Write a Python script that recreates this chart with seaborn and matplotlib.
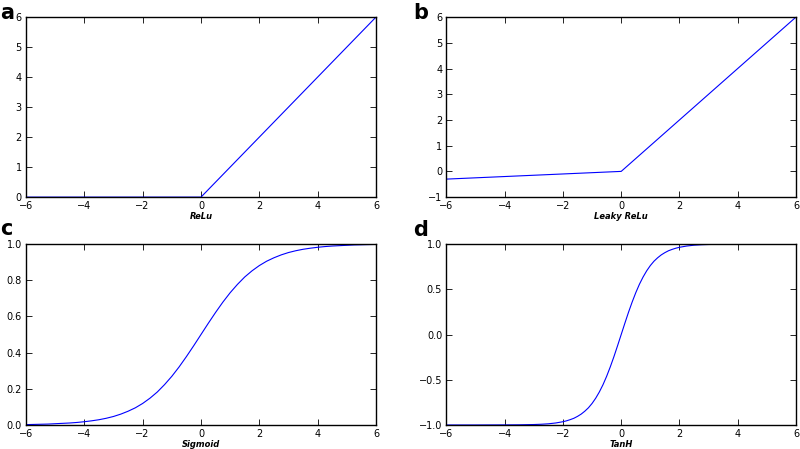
import matplotlib
matplotlib.use("Agg")
import matplotlib.pyplot as plt
import seaborn as sns

# x grid (0.25 step) used for the sigmoid curve
sig_x = [-6.0, -5.75, -5.5, -5.25, -5.0, -4.75, -4.5, -4.25, -4.0, -3.75, -3.5, -3.25,
         -3.0, -2.75, -2.5, -2.25, -2.0, -1.75, -1.5, -1.25, -1.0, -0.75, -0.5, -0.25,
         0.0, 0.25, 0.5, 0.75, 1.0, 1.25, 1.5, 1.75, 2.0, 2.25, 2.5, 2.75,
         3.0, 3.25, 3.5, 3.75, 4.0, 4.25, 4.5, 4.75, 5.0, 5.25, 5.5, 5.75, 6.0]
sigmoid_y = [0.002, 0.003, 0.004, 0.005, 0.007, 0.009, 0.011, 0.014, 0.018, 0.023, 0.029, 0.037,
             0.047, 0.060, 0.076, 0.095, 0.119, 0.148, 0.182, 0.223, 0.269, 0.321, 0.378, 0.438,
             0.500, 0.562, 0.622, 0.679, 0.731, 0.777, 0.818, 0.852, 0.881, 0.905, 0.924, 0.940,
             0.953, 0.963, 0.971, 0.977, 0.982, 0.986, 0.989, 0.991, 0.993, 0.995, 0.996, 0.997, 0.998]

# tanh read on a finer grid through the steep middle part
tanh_x = [-6.0, -5.0, -4.0, -3.5, -3.0, -2.75, -2.5, -2.25, -2.0, -1.875, -1.75, -1.625,
          -1.5, -1.375, -1.25, -1.125, -1.0, -0.875, -0.75, -0.625, -0.5, -0.375, -0.25, -0.125,
          0.0, 0.125, 0.25, 0.375, 0.5, 0.625, 0.75, 0.875, 1.0, 1.125, 1.25, 1.375,
          1.5, 1.625, 1.75, 1.875, 2.0, 2.25, 2.5, 2.75, 3.0, 3.5, 4.0, 5.0, 6.0]
tanh_y = [-1.0, -1.0, -0.999, -0.998, -0.995, -0.992, -0.987, -0.978, -0.964, -0.954, -0.941, -0.926,
          -0.905, -0.880, -0.848, -0.810, -0.762, -0.704, -0.635, -0.555, -0.462, -0.358, -0.245, -0.124,
          0.0, 0.124, 0.245, 0.358, 0.462, 0.555, 0.635, 0.704, 0.762, 0.810, 0.848, 0.880,
          0.905, 0.926, 0.941, 0.954, 0.964, 0.978, 0.987, 0.992, 0.995, 0.998, 0.999, 1.0, 1.0]

relu_x = [-6, 0, 6]
relu_y = [0, 0, 6]

leaky_x = [-6, 0, 6]
leaky_y = [-0.3, 0, 6]

panels = [
    ("a", "ReLu", relu_x, relu_y, (0, 6), [0, 1, 2, 3, 4, 5, 6]),
    ("b", "Leaky ReLu", leaky_x, leaky_y, (-1, 6), [-1, 0, 1, 2, 3, 4, 5, 6]),
    ("c", "Sigmoid", sig_x, sigmoid_y, (0, 1), [0.0, 0.2, 0.4, 0.6, 0.8, 1.0]),
    ("d", "TanH", tanh_x, tanh_y, (-1, 1), [-1.0, -0.5, 0.0, 0.5, 1.0]),
]

sns.set_theme(style="ticks", rc={
    "xtick.direction": "in", "ytick.direction": "in",
    "xtick.top": True, "ytick.right": True,
    "xtick.major.size": 4, "ytick.major.size": 4,
    "xtick.major.width": 0.6, "ytick.major.width": 0.6,
    "axes.edgecolor": "black", "axes.linewidth": 1.0,
    "xtick.labelsize": 7, "ytick.labelsize": 7,
    "xtick.major.pad": 3, "ytick.major.pad": 3,
    "text.color": "black", "xtick.color": "black", "ytick.color": "black",
    "axes.labelcolor": "black",
})
plt.rcParams["font.family"] = ["DejaVu Sans"]

fig = plt.figure(figsize=(8, 4.49), dpi=100)

# axes rectangles in figure fractions
rects = [
    (0.0325, 0.561, 0.4375, 0.401),
    (0.558, 0.561, 0.437, 0.401),
    (0.0325, 0.0535, 0.4375, 0.403),
    (0.558, 0.0535, 0.437, 0.403),
]
letter_pos = [(0.0, 0.972), (0.516, 0.972), (0.0, 0.49), (0.516, 0.488)]

for (letter, name, xs, ys, ylim, yticks), rect, lp in zip(panels, rects, letter_pos):
    ax = fig.add_axes(rect)
    sns.lineplot(x=xs, y=ys, ax=ax, color="#0000ff", linewidth=0.8)
    ax.set_xlim(-6, 6)
    ax.set_ylim(*ylim)
    ax.set_xticks([-6, -4, -2, 0, 2, 4, 6])
    ax.set_yticks(yticks)
    for s in ax.spines.values():
        s.set_visible(True)
    ax.set_xlabel(name, fontsize=6, fontweight="bold", fontstyle="italic", labelpad=0.5)
    fig.text(lp[0], lp[1], letter, fontsize=15, fontweight="bold", va="center", ha="left")

fig.savefig("out.png", dpi=100)
